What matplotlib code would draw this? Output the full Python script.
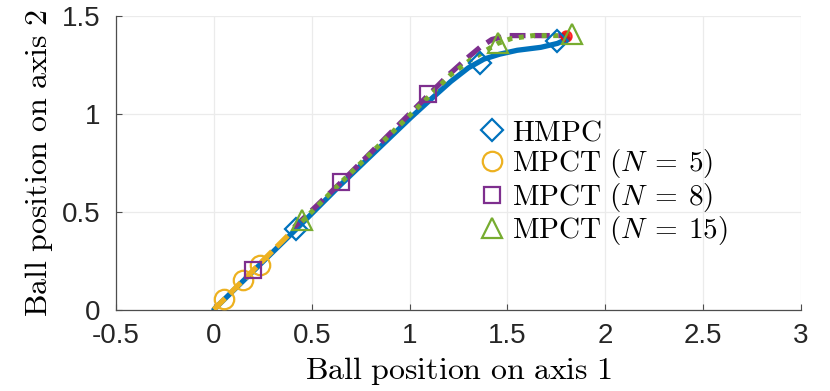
import matplotlib
matplotlib.use("Agg")
import matplotlib.pyplot as plt

plt.rcParams["mathtext.fontset"] = "cm"
plt.rcParams["axes.unicode_minus"] = False
plt.rcParams["font.family"] = ["Liberation Sans", "DejaVu Sans"]

# Trajectories
hmpc_x = [0.0, 0.42, 0.65, 1.005, 1.12, 1.21, 1.30, 1.38, 1.46, 1.55, 1.67, 1.755, 1.81]
hmpc_y = [0.0, 0.41, 0.64, 0.98, 1.085, 1.165, 1.235, 1.28, 1.305, 1.325, 1.34, 1.36, 1.385]
n5_x = [0.0, 0.39]
n5_y = [0.0, 0.39]
n8_x = [0.41, 0.65, 1.10, 1.20, 1.30, 1.36, 1.42, 1.50, 1.70, 1.80]
n8_y = [0.42, 0.65, 1.10, 1.20, 1.29, 1.34, 1.38, 1.40, 1.40, 1.40]
n15_x = [0.45, 0.65, 1.08, 1.21, 1.31, 1.45, 1.52, 1.63, 1.755, 1.82]
n15_y = [0.45, 0.65, 1.07, 1.20, 1.275, 1.36, 1.385, 1.40, 1.40, 1.41]

# Marker samples
hmpc_mx = [0.42, 1.36, 1.755]
hmpc_my = [0.41, 1.26, 1.37]
n5_mx = [0.05, 0.15, 0.235]
n5_my = [0.055, 0.15, 0.23]
n8_mx = [0.20, 0.65, 1.095]
n8_my = [0.20, 0.65, 1.10]
n15_mx = [0.45, 1.45, 1.83]
n15_my = [0.46, 1.36, 1.41]
goal = (1.80, 1.40)

labels = [r"$\mathrm{HMPC}$", r"$\mathrm{MPCT}\ (N\:=\:5)$",
          r"$\mathrm{MPCT}\ (N\:=\:8)$", r"$\mathrm{MPCT}\ (N\:=\:15)$"]

BLUE = "#0072BD"
YELLOW = "#EDB120"
PURPLE = "#7E2F8E"
GREEN = "#77AC30"

fig = plt.figure(figsize=(8.3, 3.91), dpi=100)
ax = fig.add_axes([0.1398, 0.2084, 0.8253, 0.7506])

ax.plot(hmpc_x, hmpc_y, color=BLUE, lw=3.8, zorder=2, solid_capstyle="round")
ax.plot(n8_x, n8_y, color=PURPLE, lw=3.8, ls=(0, (3, 1.6)), zorder=3)
ax.plot(n15_x, n15_y, color=GREEN, lw=3.6, ls=(0, (1, 1.3)), zorder=4)
ax.plot(n5_x, n5_y, color=YELLOW, lw=3.8, ls=(0, (3, 1.2)), zorder=3)

ax.plot(*goal, "o", color="red", ms=8, alpha=0.75, zorder=5)

mk = dict(ls="none", mfc="none", mew=1.6, zorder=6)
ax.plot(hmpc_mx, hmpc_my, marker="D", ms=11, mec=BLUE, label=labels[0], **mk)
ax.plot(n5_mx, n5_my, marker="o", ms=14, mec=YELLOW, label=labels[1], **mk)
ax.plot(n8_mx, n8_my, marker="s", ms=12, mec=PURPLE, label=labels[2], **mk)
ax.plot(n15_mx, n15_my, marker="^", ms=14, mec=GREEN, label=labels[3], **mk)

ax.set_xlim(-0.5, 3)
ax.set_ylim(0, 1.5)
ax.set_xticks([-0.5, 0, 0.5, 1, 1.5, 2, 2.5, 3])
ax.set_xticklabels(["-0.5", "0", "0.5", "1", "1.5", "2", "2.5", "3"])
ax.set_yticks([0, 0.5, 1, 1.5])
ax.set_yticklabels(["0", "0.5", "1", "1.5"])

ax.grid(True, color="#ebebeb", lw=0.9)
ax.set_axisbelow(True)
for s in ["top", "right"]:
    ax.spines[s].set_visible(False)
for s in ["left", "bottom"]:
    ax.spines[s].set_color("#4d4d4d")
    ax.spines[s].set_linewidth(0.9)
ax.tick_params(direction="in", length=4, width=0.8, color="#4d4d4d",
               labelsize=20, labelcolor="#262626")
ax.tick_params(axis="y", pad=11)
ax.tick_params(axis="x", pad=10)

ax.set_xlabel(r"$\mathrm{Ball\ position\ on\ axis\ 1}$", fontsize=23, labelpad=4)
ax.set_ylabel(r"$\mathrm{Ball\ position\ on\ axis\ 2}$", fontsize=23, labelpad=5)

ax.legend(loc="upper left", bbox_to_anchor=(0.512, 0.69), frameon=False,
          fontsize=21, handlelength=0.9, handletextpad=0.25,
          labelspacing=0.02, borderaxespad=0)

fig.savefig("out.png", dpi=100)
